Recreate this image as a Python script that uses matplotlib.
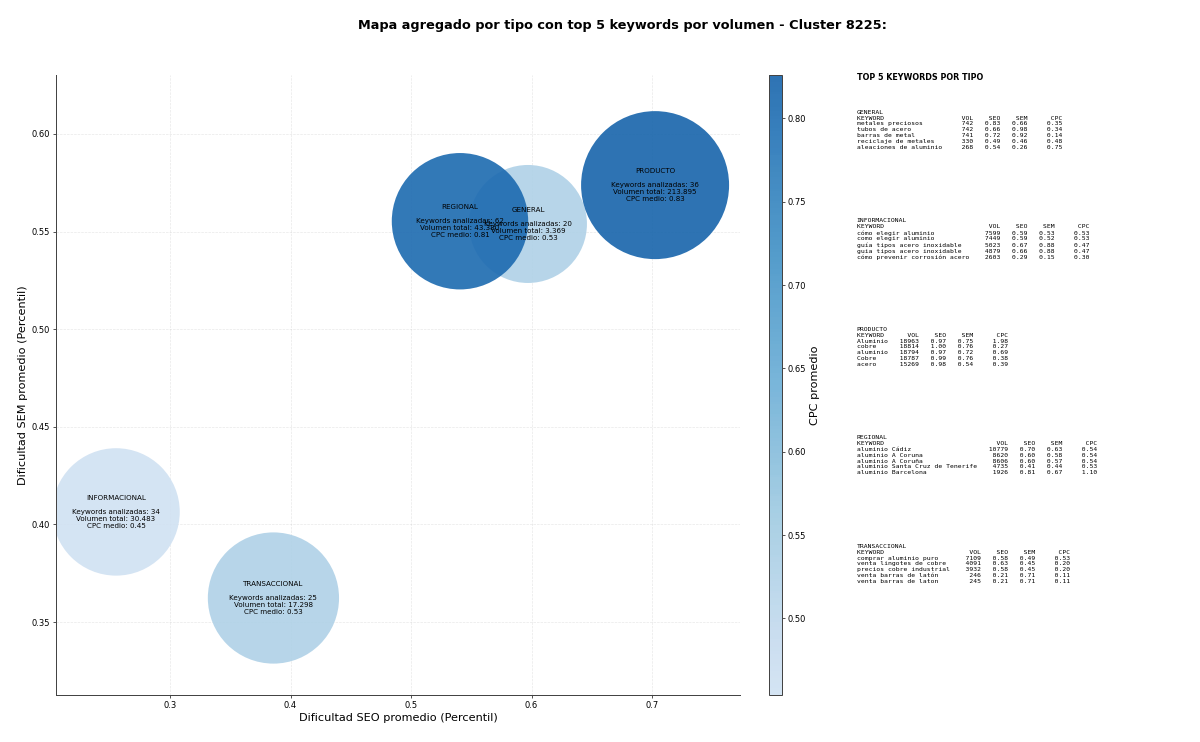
import numpy as np
import matplotlib.pyplot as plt
from matplotlib.colors import ListedColormap, Normalize

# aggregated data per keyword type
tipos = ["GENERAL", "INFORMACIONAL", "PRODUCTO", "REGIONAL", "TRANSACCIONAL"]
seo_medio = [0.597, 0.2552, 0.7025, 0.5406, 0.3858]
sem_medio = [0.5539, 0.4064, 0.5738, 0.5553, 0.3623]
cpc_medio = [0.53, 0.454, 0.826, 0.81, 0.53]
n_keywords = [20, 34, 36, 62, 25]
vol_total = [3369, 30483, 213895, 43380, 17298]

# top 5 keywords per type: keyword, vol, seo, sem, cpc
top_general = [
    ("metales preciosos", 742, 0.83, 0.66, 0.35),
    ("tubos de acero", 742, 0.66, 0.98, 0.34),
    ("barras de metal", 741, 0.72, 0.92, 0.14),
    ("reciclaje de metales", 330, 0.49, 0.46, 0.48),
    ("aleaciones de aluminio", 268, 0.54, 0.26, 0.75),
]
top_informacional = [
    ("cómo elegir aluminio", 7599, 0.59, 0.53, 0.53),
    ("como elegir aluminio", 7449, 0.59, 0.52, 0.53),
    ("guía tipos acero inoxidable", 5023, 0.67, 0.88, 0.47),
    ("guia tipos acero inoxidable", 4879, 0.66, 0.88, 0.47),
    ("cómo prevenir corrosión acero", 2603, 0.29, 0.15, 0.30),
]
top_producto = [
    ("Aluminio", 18963, 0.97, 0.75, 1.98),
    ("cobre", 18814, 1.00, 0.76, 0.27),
    ("aluminio", 18794, 0.97, 0.72, 0.69),
    ("Cobre", 18787, 0.99, 0.76, 0.38),
    ("acero", 15269, 0.98, 0.54, 0.39),
]
top_regional = [
    ("aluminio Cádiz", 10779, 0.70, 0.63, 0.54),
    ("aluminio A Coruna", 8620, 0.60, 0.58, 0.54),
    ("aluminio A Coruña", 8606, 0.60, 0.57, 0.54),
    ("aluminio Santa Cruz de Tenerife", 4735, 0.41, 0.44, 0.53),
    ("aluminio Barcelona", 1926, 0.81, 0.67, 1.10),
]
top_transaccional = [
    ("comprar aluminio puro", 7109, 0.58, 0.49, 0.53),
    ("venta lingotes de cobre", 4091, 0.63, 0.45, 0.20),
    ("precios cobre industrial", 3932, 0.58, 0.45, 0.20),
    ("venta barras de latón", 246, 0.21, 0.71, 0.11),
    ("venta barras de laton", 245, 0.21, 0.71, 0.11),
]
tops = [top_general, top_informacional, top_producto, top_regional, top_transaccional]

# bubble areas (pt^2)
bubble_area = [20050, 23380, 31540, 26790, 24790]


def fmt_vol(v):
    return f"{v:,}".replace(",", ".")


def top_block(nombre, rows):
    w = max(len(r[0]) for r in rows)
    lines = [nombre, f"{'KEYWORD':<{w}} {'VOL':>7} {'SEO':>6} {'SEM':>6} {'CPC':>8}"]
    for kw, vol, seo, sem, cpc in rows:
        lines.append(f"{kw:<{w}} {vol:>7} {seo:>6.2f} {sem:>6.2f} {cpc:>8.2f}")
    return "\n".join(lines)


fig = plt.figure(figsize=(20, 742 / 60), dpi=60)
ax = fig.add_axes([0.0467, 0.0633, 0.57, 0.8356])
cax = fig.add_axes([0.6408, 0.0633, 0.0108, 0.8356])

cmap = ListedColormap(plt.cm.Blues(np.linspace(0.2, 0.8, 256)))
norm = Normalize(vmin=min(cpc_medio), vmax=max(cpc_medio))

sc = ax.scatter(seo_medio, sem_medio, s=bubble_area, c=cpc_medio, cmap=cmap,
                norm=norm, alpha=0.9, linewidths=0, zorder=2)

for i, t in enumerate(tipos):
    label = (f"{t}\n\nKeywords analizadas: {n_keywords[i]}\n"
             f"Volumen total: {fmt_vol(vol_total[i])}\nCPC medio: {cpc_medio[i]:.2f}")
    ax.text(seo_medio[i], sem_medio[i], label, ha='center', va='center',
            fontsize=8.5, zorder=5)

ax.set_xlim(0.2054, 0.773)
ax.set_ylim(0.3126, 0.6302)
ax.set_xticks([0.3, 0.4, 0.5, 0.6, 0.7])
ax.set_yticks([0.35, 0.40, 0.45, 0.50, 0.55, 0.60])
ax.set_xticklabels(["0.3", "0.4", "0.5", "0.6", "0.7"])
ax.set_yticklabels(["0.35", "0.40", "0.45", "0.50", "0.55", "0.60"])
ax.tick_params(labelsize=10)
ax.grid(True, linestyle='--', alpha=0.3, zorder=0)
ax.set_axisbelow(True)
ax.spines['top'].set_visible(False)
ax.spines['right'].set_visible(False)
for s in ['left', 'bottom']:
    ax.spines[s].set_color('#444444')
    ax.spines[s].set_linewidth(1.2)
ax.set_xlabel("Dificultad SEO promedio (Percentil)", fontsize=13.5)
ax.set_ylabel("Dificultad SEM promedio (Percentil)", fontsize=13.5)

cb = fig.colorbar(sc, cax=cax)
cb.set_label("CPC promedio", fontsize=13.5)
cb.ax.tick_params(labelsize=10)
cb.outline.set_edgecolor('#444444')
cb.outline.set_linewidth(1.2)

fig.suptitle("Mapa agregado por tipo con top 5 keywords por volumen - Cluster 8225:",
             x=0.519, y=0.965, va='center', fontsize=15.4, fontweight='bold')

fig.text(0.714, 0.895, "TOP 5 KEYWORDS POR TIPO", fontsize=9.6,
         fontweight='bold', va='center')
for i, (t, rows) in enumerate(zip(tipos, tops)):
    fig.text(0.714, 0.852 - i * 0.1463, top_block(t, rows), family='DejaVu Sans Mono',
             fontsize=7.6, va='top', ha='left')

fig.savefig("out.png", dpi=60)
